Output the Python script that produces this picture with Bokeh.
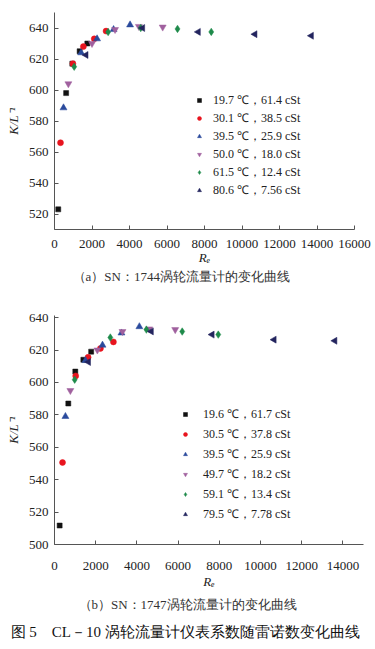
import math
from bokeh.plotting import figure
from bokeh.layouts import column
from bokeh.models import Title, Legend, LegendItem, FixedTicker, Range1d
from bokeh.embed import file_html
from bokeh.resources import INLINE

# ---------------- Panel (a): SN 1744 ----------------
a_labels = ["19.7 ℃，61.4 cSt", "30.1 ℃，38.5 cSt", "39.5 ℃，25.9 cSt",
            "50.0 ℃，18.0 cSt", "61.5 ℃，12.4 cSt", "80.6 ℃，7.56 cSt"]
a_re_1 = [200, 620, 950, 1340, 1750]
a_k_1 = [523, 598, 617, 625, 630]
a_re_2 = [320, 980, 1540, 2120, 2750]
a_k_2 = [566, 617, 628, 633, 638]
a_re_3 = [480, 1420, 2270, 3150, 4030]
a_k_3 = [588.5, 624, 633, 639, 642]
a_re_4 = [740, 2000, 3230, 4500, 5770]
a_k_4 = [604, 630, 639, 641, 640.6]
a_re_5 = [1050, 2860, 4600, 6560, 8360]
a_k_5 = [615, 637.4, 640, 639.4, 637.5]
a_re_6 = [1680, 4700, 7670, 10690, 13700]
a_k_6 = [622.6, 640, 637.5, 636, 635]
a_xticks = [0, 2000, 4000, 6000, 8000, 10000, 12000, 14000, 16000]
a_yticks = [520, 540, 560, 580, 600, 620, 640]

# ---------------- Panel (b): SN 1747 ----------------
b_labels = ["19.6 ℃，61.7 cSt", "30.5 ℃，37.8 cSt", "39.5 ℃，25.9 cSt",
            "49.7 ℃，18.2 cSt", "59.1 ℃，13.4 cSt", "79.5 ℃，7.78 cSt"]
b_re_1 = [250, 670, 1010, 1400, 1780]
b_k_1 = [511.7, 587, 606.7, 614, 619]
b_re_2 = [390, 1030, 1630, 2230, 2860]
b_k_2 = [550.6, 604, 615.5, 621, 625]
b_re_3 = [530, 1500, 2330, 3250, 4120]
b_k_3 = [579, 613.5, 623, 630.5, 634.4]
b_re_4 = [770, 2080, 3300, 4600, 5860]
b_k_4 = [595, 620, 631.4, 633, 632.6]
b_re_5 = [980, 2710, 4460, 6200, 7950]
b_k_5 = [601.7, 627.7, 632.6, 631.4, 629.5]
b_re_6 = [1650, 4700, 7650, 10660, 13610]
b_k_6 = [612.6, 631.5, 629.5, 626.4, 625.7]
b_xticks = [0, 2000, 4000, 6000, 8000, 10000, 12000, 14000]
b_yticks = [500, 520, 540, 560, 580, 600, 620, 640]

captions = ["（a）SN：1744涡轮流量计的变化曲线",
            "（b）SN：1747涡轮流量计的变化曲线",
            "图 5　CL－10 涡轮流量计仪表系数随雷诺数变化曲线"]

styles = [
    dict(marker="square", color="#111111", size=5, angle=0),
    dict(marker="circle", color="#e8141e", size=6, angle=0),
    dict(marker="triangle", color="#2a4a9c", size=7, angle=0),
    dict(marker="inverted_triangle", color="#a0609e", size=7, angle=0),
    dict(marker="diamond", color="#1e8a4a", size=7.5, angle=0),
    dict(marker="triangle", color="#23245e", size=7, angle=math.pi / 2),
]

SERIF = "Liberation Serif"


def make_panel(series, labels, xr, yr, xticks, yticks, fw, fh, bl, br, bt, bb,
               leg_loc, leg_row, leg_standoff, leg_spacing):
    p = figure(frame_width=fw, frame_height=fh, x_range=Range1d(*xr), y_range=Range1d(*yr),
               output_backend="svg", toolbar_location=None,
               min_border_left=bl, min_border_right=br, min_border_top=bt, min_border_bottom=bb)
    p.outline_line_color = None
    p.xgrid.visible = False
    p.ygrid.visible = False
    p.background_fill_color = "white"
    items = []
    for (xs, ys), st, lab in zip(series, styles, labels):
        r = p.scatter(xs, ys, marker=st["marker"], size=st["size"], angle=st["angle"],
                      fill_color=st["color"], line_color=st["color"], line_width=0.5)
        items.append(LegendItem(label=lab, renderers=[r]))
    leg = Legend(items=items, location=leg_loc, padding=0, margin=0, spacing=leg_spacing,
                 glyph_width=10, glyph_height=leg_row, label_height=leg_row,
                 label_standoff=leg_standoff, border_line_alpha=0, background_fill_alpha=0,
                 label_text_font=SERIF, label_text_font_size="12px", label_text_color="#222",
                 label_text_line_height=1.0)
    p.add_layout(leg)
    for ax in (p.xaxis[0], p.yaxis[0]):
        ax.axis_line_color = "#555"
        ax.major_tick_line_color = "#555"
        ax.major_tick_in = 4
        ax.major_tick_out = 0
        ax.minor_tick_line_color = None
        ax.major_label_text_font = SERIF
        ax.major_label_text_font_size = "13px"
        ax.major_label_text_color = "#222"
        ax.axis_label_text_font = SERIF
        ax.axis_label_text_font_size = "13px"
        ax.axis_label_text_color = "#222"
        ax.axis_label_text_font_style = "italic"
    p.xaxis.ticker = FixedTicker(ticks=xticks)
    p.yaxis.ticker = FixedTicker(ticks=yticks)
    p.xaxis.axis_label = "Rₑ"
    p.yaxis.axis_label = "K/L⁻¹"
    p.yaxis.major_label_standoff = 6
    return p


pa = make_panel(
    [(a_re_1, a_k_1), (a_re_2, a_k_2), (a_re_3, a_k_3), (a_re_4, a_k_4), (a_re_5, a_k_5), (a_re_6, a_k_6)],
    a_labels, (0, 16000), (510, 650), a_xticks, a_yticks,
    fw=300, fh=217, bl=54, br=19, bt=12, bb=61, leg_loc=(140, 30), leg_row=16, leg_standoff=9,
    leg_spacing=-1)
pa.xaxis.major_label_standoff = 10
pa.xaxis.axis_label_standoff = -1
ta = Title(text=captions[0], align="left", offset=18, text_font=SERIF, text_font_size="13px",
           text_font_style="normal", text_color="#333", standoff=-1)
pa.add_layout(ta, "below")

pb = make_panel(
    [(b_re_1, b_k_1), (b_re_2, b_k_2), (b_re_3, b_k_3), (b_re_4, b_k_4), (b_re_5, b_k_5), (b_re_6, b_k_6)],
    b_labels, (0, 15000), (500, 641.3), b_xticks, b_yticks,
    fw=309, fh=229, bl=54, br=10, bt=25, bb=103, leg_loc=(126, 20), leg_row=20, leg_standoff=13,
    leg_spacing=0)
pb.xaxis.major_label_standoff = 17
pb.xaxis.axis_label_standoff = 1
tb = Title(text=captions[1], align="left", offset=24, text_font=SERIF, text_font_size="13px",
           text_font_style="normal", text_color="#333", standoff=7)
pb.add_layout(tb, "below")
tc = Title(text=captions[2], align="left", offset=-44, text_font=SERIF, text_font_size="15px",
           text_font_style="normal", text_color="#111", standoff=12)
pb.add_layout(tc, "below")

layout = column(pa, pb, spacing=0)
open("out.html", "w").write(file_html(layout, INLINE))
